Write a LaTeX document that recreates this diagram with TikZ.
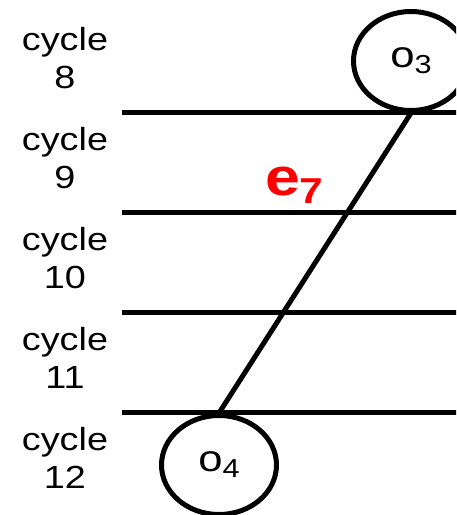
\documentclass[tikz,border=0pt]{standalone}
\usepackage{fontspec}
\setmainfont{Liberation Sans}[FakeStretch=1.18]
\usetikzlibrary{shapes.geometric}
\definecolor{edgered}{RGB}{255,0,0}
\tikzset{
  rowline/.style={line width=5pt},
  obj/.style={ellipse, draw, line width=5pt, minimum width=115pt,
    minimum height=99pt, inner sep=0pt, fill=white},
  link/.style={line width=5pt},
  cyclelabel/.style={align=center, inner sep=0pt,
    font=\fontsize{32}{38}\selectfont},
  edgelabel/.style={text=edgered, inner sep=0pt, font=\bfseries},
}
\newcommand{\objname}[2]{\fontsize{37}{37}\selectfont #1\raisebox{-6pt}{\fontsize{26}{26}\selectfont #2}}
\begin{document}
\begin{tikzpicture}[x=1pt, y=-1pt]
  \useasboundingbox (0,0) rectangle (456,515);
  \clip (0,0) rectangle (456,515);

  % cycle boundaries
  \foreach \yy in {112,212,312,412}
    \draw[rowline] (122,\yy) -- (470,\yy);

  % cycle labels
  \node[cyclelabel] (c8)  at (65,58)  {cycle\\8};
  \node[cyclelabel] (c9)  at (65,158) {cycle\\9};
  \node[cyclelabel] (c10) at (65,258) {cycle\\10};
  \node[cyclelabel] (c11) at (65,358) {cycle\\11};
  \node[cyclelabel] (c12) at (65,458) {cycle\\12};

  % operations
  \node[obj] (o3) at (411,61)  {\objname{o}{3}};
  \node[obj] (o4) at (219,465) {\objname{o}{4}};

  % dependence edge
  \draw[link] (o3.south) -- (o4.north);
  \node[edgelabel, anchor=base west] (e7) at (265,195)
    {\fontsize{53}{53}\selectfont e\raisebox{-8pt}{\fontsize{36}{36}\selectfont 7}};
\end{tikzpicture}
\end{document}
